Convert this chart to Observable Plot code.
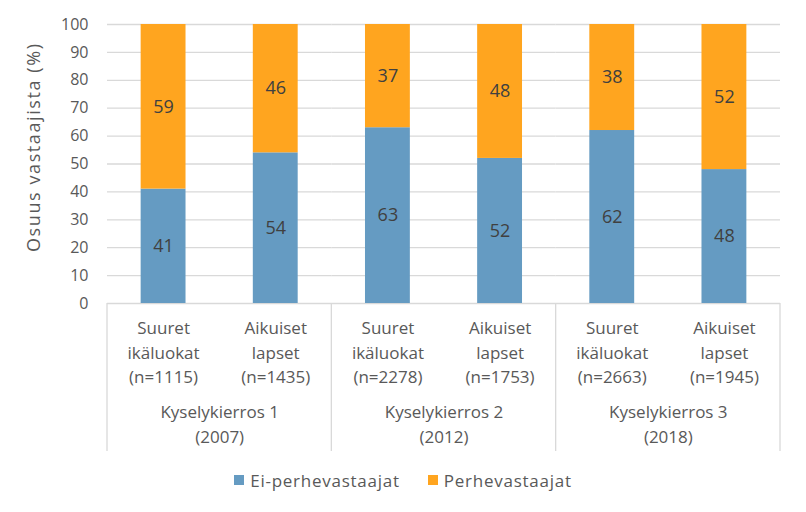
<!DOCTYPE html>
<html><head><meta charset="utf-8">
<script src="https://cdn.jsdelivr.net/npm/d3@7"></script>
<script src="https://cdn.jsdelivr.net/npm/@observablehq/plot@0.6"></script>
<style>
body{margin:0;background:#fff;font-family:"Open Sans",sans-serif;}
#legend{display:flex;justify-content:center;align-items:center;height:36px;font-size:17px;letter-spacing:0.75px;color:#595959;gap:28px;}
#legend span.item{display:flex;align-items:center;}
#legend span.sw{display:inline-block;width:10px;height:10px;margin-right:6px;}
</style>
</head><body>
<div id="chart"></div>
<div id="legend"></div>
<script>
const rounds = ["Kyselykierros 1\n(2007)", "Kyselykierros 2\n(2012)", "Kyselykierros 3\n(2018)"];
const groups = ["Suuret\nikäluokat", "Aikuiset\nlapset"];
const sampleSizes = [1115, 1435, 2278, 1753, 2663, 1945];
const series = ["Ei-perhevastaajat", "Perhevastaajat"];
const eiValues = [41, 54, 63, 52, 62, 48];
const perheValues = [59, 46, 37, 48, 38, 52];
const yTicks = [0, 10, 20, 30, 40, 50, 60, 70, 80, 90, 100];
const yLabel = "Osuus vastaajista (%)";
const colors = ["#659bc2", "#ffa51f"];

const rows = [];
const cats = [];
rounds.forEach((r, i) => {
  groups.forEach((g, j) => {
    const k = i * 2 + j;
    cats.push({round: r, group: g, label: `${g}\n(n=${sampleSizes[k]})`});
    rows.push({round: r, group: g, series: series[0], value: eiValues[k]});
    rows.push({round: r, group: g, series: series[1], value: perheValues[k]});
  });
});
const roundRows = rounds.map(r => ({round: r}));

const textColor = "#595959";
const plot = Plot.plot({
  width: 806,
  height: 462,
  marginLeft: 107,
  marginRight: 26,
  marginTop: 24,
  marginBottom: 159,
  style: {fontFamily: "'Open Sans', sans-serif", fontSize: "16px", color: textColor, background: "#fff"},
  fx: {domain: rounds, padding: 0, axis: null, round: false},
  x: {domain: groups, paddingInner: 0.6, paddingOuter: 0.3, axis: null, round: false},
  y: {domain: [0, 100], ticks: yTicks},
  color: {domain: series, range: colors},
  marks: [
    Plot.ruleY(yTicks, {y: d => d, stroke: "#d9d9d9", strokeWidth: 1.3}),
    Plot.barY(rows, Plot.stackY({fx: "round", x: "group", y: "value", fill: "series", order: series})),
    Plot.text(rows, Plot.stackY({fx: "round", x: "group", y: "value", z: "series", order: series, text: d => String(d.value), fill: "#404040", fontSize: 18})),
    Plot.text(cats, {fx: "round", x: "group", text: "label", frameAnchor: "bottom", lineAnchor: "top", dy: 13, lineHeight: 1.45, fill: textColor, fontSize: 17}),
    Plot.text(roundRows, {fx: "round", text: "round", frameAnchor: "bottom", lineAnchor: "top", dy: 97, lineHeight: 1.45, fill: textColor, fontSize: 17}),
    Plot.axisY({ticks: yTicks, tickSize: 0, tickPadding: 19, fontSize: 16, label: yLabel, labelAnchor: "center", labelArrow: "none", labelOffset: 80})
  ]
});
document.getElementById("chart").appendChild(plot);
// enlarge the y-axis title, stretch to the reference width and nudge it up
d3.select(plot).selectAll("text")
  .filter(function() { return this.textContent === yLabel; })
  .attr("font-size", 18).style("font-size", "18px")
  .attr("textLength", 208).attr("lengthAdjust", "spacing")
  .attr("dx", 16);

// category box separators drawn from the fx scale
const fxScale = plot.scale("fx");
const svgSel = d3.select(plot);
const boxTop = 462 - 159, boxBottom = 451;
const edges = [];
rounds.forEach(r => { edges.push(fxScale.apply(r)); });
edges.push(fxScale.apply(rounds[rounds.length - 1]) + fxScale.bandwidth);
svgSel.append("g").selectAll("line").data(edges).join("line")
  .attr("x1", d => d).attr("x2", d => d).attr("y1", boxTop).attr("y2", boxBottom)
  .attr("stroke", "#d9d9d9").attr("stroke-width", 1.3);

// legend
const lg = document.getElementById("legend");
series.forEach((s, i) => {
  const it = document.createElement("span"); it.className = "item";
  const sw = document.createElement("span"); sw.className = "sw"; sw.style.background = colors[i];
  it.appendChild(sw); it.appendChild(document.createTextNode(s));
  lg.appendChild(it);
});
</script>
</body></html>
